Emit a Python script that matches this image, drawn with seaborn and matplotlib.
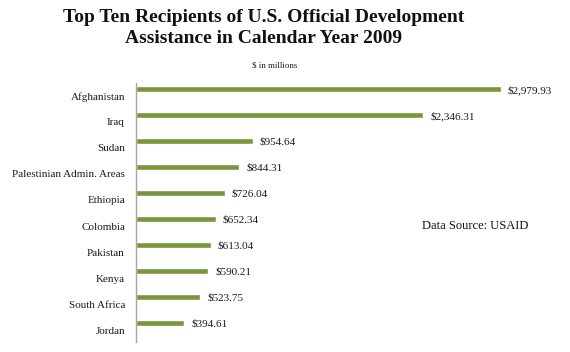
"""Top ten recipients of U.S. ODA, 2009 - horizontal bar chart."""

import matplotlib.pyplot as plt
import matplotlib.transforms as mtransforms
import pandas as pd
import seaborn as sns

COUNTRIES = [
    "Afghanistan", "Iraq", "Sudan", "Palestinian Admin. Areas", "Ethiopia",
    "Colombia", "Pakistan", "Kenya", "South Africa", "Jordan",
]
AMOUNTS = [2979.93, 2346.31, 954.64, 844.31, 726.04, 652.34, 613.04, 590.21, 523.75, 394.61]

BAR_COLOR = "#79963C"
SERIF = ["Liberation Serif", "DejaVu Serif"]


def main() -> None:
    sns.set_theme(style="white")
    plt.rcParams["font.family"] = SERIF

    df = pd.DataFrame({"country": COUNTRIES, "amount": AMOUNTS})

    fig = plt.figure(figsize=(5.7, 3.52), dpi=100)
    ax = fig.add_axes([0.2386, 0.0284, 0.73, 0.7358])
    sns.barplot(data=df, y="country", x="amount", orient="h", color=BAR_COLOR,
                width=0.22, saturation=1, ax=ax)

    ax.set_xlim(0, 3400)
    ax.set_ylim(9.73, -0.23)
    ax.set_xlabel("")
    ax.set_ylabel("")
    ax.set_xticks([])
    for side in ("top", "right", "bottom"):
        ax.spines[side].set_visible(False)
    ax.spines["left"].set_color("#a6a6a6")
    ax.spines["left"].set_linewidth(1.0)

    # category labels sit a little below the bars
    ax.tick_params(axis="y", length=0, pad=8, labelsize=8, labelcolor="#1a1a1a")
    shift = mtransforms.ScaledTranslation(0, -7 / 100, fig.dpi_scale_trans)
    for lbl in ax.get_yticklabels():
        lbl.set_transform(lbl.get_transform() + shift)

    for i, val in enumerate(AMOUNTS):
        ax.annotate(f"\\${val:,.2f}", xy=(val, i), xytext=(5, -1), textcoords="offset points",
                    va="center", ha="left", fontsize=8, color="#1a1a1a")

    fig.text(0.463, 0.975, "Top Ten Recipients of U.S. Official Development\nAssistance in Calendar Year 2009",
             ha="center", va="top", fontsize=14, fontweight="bold", linespacing=1.3, color="#111111")
    fig.text(0.482, 0.815, "\\$ in millions", ha="center", va="center", fontsize=6.5, color="#222222")
    fig.text(0.74, 0.358, "Data Source: USAID", ha="left", va="center", fontsize=9, color="#111111")

    fig.savefig("out.png", dpi=100)
    plt.close(fig)


if __name__ == "__main__":
    main()
